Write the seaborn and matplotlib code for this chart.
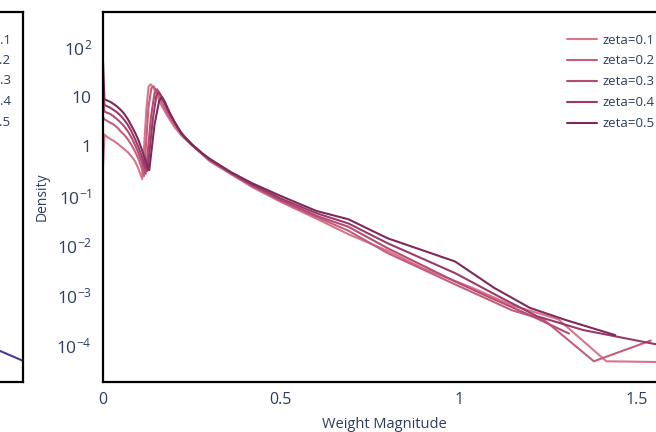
import matplotlib
matplotlib.use('Agg')
import numpy as np
import pandas as pd
import matplotlib.pyplot as plt
import seaborn as sns

# ---------------- data ----------------
series_labels = ['zeta=0.1', 'zeta=0.2', 'zeta=0.3', 'zeta=0.4', 'zeta=0.5']

x_z01 = [0, 0.004, 0.01, 0.02, 0.03, 0.04, 0.05, 0.06, 0.07, 0.08, 0.09, 0.10, 0.11, 0.122, 0.128,
         0.134, 0.142, 0.15, 0.165, 0.18, 0.20, 0.22, 0.25, 0.28, 0.30, 0.36,
         0.42, 0.50, 0.60, 0.69, 0.80, 0.90, 1.04, 1.15, 1.28, 1.415, 1.70]
y_z01 = [0.38, 1.74, 1.58, 1.41, 1.29, 1.15, 1.0, 0.87, 0.76, 0.63, 0.50, 0.35, 0.22, 5.6, 15.8,
         17.8, 15.1, 11.2, 6.6, 4.2, 2.5, 1.66, 1.05, 0.68, 0.50, 0.275,
         0.15, 0.076, 0.035, 0.017, 0.0079, 0.0035, 0.0014, 0.00063, 0.00033, 0.000047, 0.000044]

x_z02 = [0, 0.004, 0.01, 0.02, 0.03, 0.04, 0.05, 0.06, 0.07, 0.08, 0.09, 0.10, 0.108, 0.115, 0.128,
         0.136, 0.142, 0.15, 0.16, 0.175, 0.19, 0.21, 0.23, 0.25, 0.28, 0.30, 0.36, 0.42,
         0.50, 0.60, 0.69, 0.80, 0.99, 1.15, 1.24, 1.38, 1.54]
y_z02 = [4.0, 3.5, 3.3, 3.0, 2.75, 2.4, 2.0, 1.70, 1.38, 1.07, 0.79, 0.55, 0.38, 0.25, 6.3,
         14.8, 16.2, 13.2, 9.5, 5.6, 3.6, 2.3, 1.48, 1.07, 0.69, 0.52, 0.28, 0.16,
         0.079, 0.038, 0.020, 0.0071, 0.00166, 0.0005, 0.00032, 0.000047, 0.000123]

x_z03 = [0, 0.004, 0.01, 0.02, 0.03, 0.04, 0.05, 0.06, 0.07, 0.08, 0.09, 0.10, 0.11, 0.12, 0.135,
         0.145, 0.152, 0.16, 0.17, 0.185, 0.20, 0.22, 0.25, 0.28, 0.30, 0.36, 0.42,
         0.50, 0.60, 0.69, 0.80, 0.99, 1.09, 1.20, 1.31]
y_z03 = [7.9, 5.0, 4.8, 4.5, 4.0, 3.5, 3.0, 2.5, 2.0, 1.51, 1.07, 0.72, 0.46, 0.28, 4.0,
         12.0, 14.1, 11.5, 8.3, 4.8, 3.2, 1.86, 1.10, 0.71, 0.54, 0.29, 0.16,
         0.083, 0.040, 0.024, 0.0089, 0.0019, 0.00089, 0.0004, 0.00017]

x_z04 = [0, 0.004, 0.01, 0.02, 0.03, 0.04, 0.05, 0.06, 0.07, 0.08, 0.09, 0.10, 0.11, 0.118, 0.125,
         0.14, 0.150, 0.157, 0.165, 0.175, 0.19, 0.21, 0.23, 0.25, 0.28, 0.30, 0.36,
         0.42, 0.50, 0.60, 0.69, 0.80, 0.99, 1.12, 1.22, 1.35, 1.55, 1.70]
y_z04 = [16, 6.8, 6.5, 6.0, 5.4, 4.8, 4.1, 3.4, 2.7, 2.0, 1.41, 0.95, 0.60, 0.40, 0.32,
         3.5, 10.5, 12.3, 10.0, 7.1, 4.2, 2.4, 1.51, 1.10, 0.71, 0.55, 0.30,
         0.17, 0.089, 0.045, 0.028, 0.0112, 0.0028, 0.00089, 0.00038, 0.0002, 0.000105, 0.000076]

x_z05 = [0, 0.004, 0.01, 0.02, 0.03, 0.04, 0.05, 0.06, 0.07, 0.08, 0.09, 0.10, 0.11, 0.12, 0.13,
         0.145, 0.158, 0.166, 0.175, 0.185, 0.20, 0.22, 0.25, 0.28, 0.30, 0.36,
         0.42, 0.50, 0.60, 0.69, 0.80, 0.99, 1.10, 1.20, 1.30, 1.44]
y_z05 = [51, 8.9, 8.5, 7.9, 7.1, 6.3, 5.4, 4.5, 3.5, 2.6, 1.9, 1.32, 0.83, 0.50, 0.33,
         2.8, 8.3, 9.8, 7.6, 5.2, 3.2, 1.82, 1.07, 0.71, 0.56, 0.30,
         0.18, 0.10, 0.050, 0.034, 0.0141, 0.0048, 0.00141, 0.00056, 0.00032, 0.000158]

# partially visible neighbouring panel (left)
side_x = [1.45, 1.60]
side_y = [0.000144, 0.000048]

xtick_vals = [0, 0.5, 1, 1.5]
xtick_labels = ['0', '0.5', '1', '1.5']
ytick_vals = [1e-4, 1e-3, 1e-2, 1e-1, 1, 10, 100]
ytick_labels = [r'$\mathregular{10^{-4}}$', r'$\mathregular{10^{-3}}$', r'$\mathregular{10^{-2}}$',
                r'$\mathregular{10^{-1}}$', '1', '10', r'$\mathregular{10^{2}}$']

palette = ['#d9748a', '#c75d7d', '#b34d72', '#9b3a68', '#7d2a5c']
side_color = '#4b3a9a'
text_color = '#2a3f5f'

# ---------------- style ----------------
sns.set_style('white')
plt.rcParams['font.family'] = ['Open Sans', 'DejaVu Sans']
plt.rcParams['mathtext.fontset'] = 'custom'
plt.rcParams['mathtext.rm'] = 'Open Sans'
plt.rcParams['mathtext.it'] = 'Open Sans:italic'
plt.rcParams['mathtext.bf'] = 'Open Sans:bold'

frames = []
for lab, xs, ys in zip(series_labels,
                       [x_z01, x_z02, x_z03, x_z04, x_z05],
                       [y_z01, y_z02, y_z03, y_z04, y_z05]):
    frames.append(pd.DataFrame({'Weight Magnitude': xs, 'Density': ys, 'series': lab}))
df = pd.concat(frames, ignore_index=True)

W, H = 656, 432
fig = plt.figure(figsize=(W / 100, H / 100), dpi=100)

# main panel
ax_l, ax_r, ax_t, ax_b = 103, 665, 12, 382
ax = fig.add_axes([ax_l / W, (H - ax_b) / H, (ax_r - ax_l) / W, (ax_b - ax_t) / H])
sns.lineplot(data=df, x='Weight Magnitude', y='Density', hue='series', hue_order=series_labels,
             palette=palette, estimator=None, sort=False, linewidth=1.5, ax=ax, legend=True)
ax.set_yscale('log')
ax.set_xlim(0, 1.58)
ax.set_ylim(10 ** -4.745, 10 ** 2.705)
ax.set_xticks(xtick_vals)
ax.set_xticklabels(xtick_labels)
ax.set_yticks(ytick_vals)
ax.set_yticklabels(ytick_labels)
ax.yaxis.set_minor_locator(matplotlib.ticker.NullLocator())
ax.tick_params(axis='both', length=0, colors=text_color)
ax.tick_params(axis='y', labelsize=12.5, pad=8)
ax.tick_params(axis='x', labelsize=11.5, pad=7)
for s in ax.spines.values():
    s.set_visible(True)
    s.set_color('black')
    s.set_linewidth(1.6)
ax.set_xlabel('Weight Magnitude', fontsize=10.5, color=text_color)
ax.set_ylabel('Density', fontsize=10, color=text_color)
ax.xaxis.set_label_coords(0.5, -(425 - ax_b) / (ax_b - ax_t))
ax.xaxis.label.set_va('center')
ax.yaxis.set_label_coords(-(ax_l - 42) / (ax_r - ax_l), 0.5)
ax.yaxis.label.set_va('center')

handles, labels = ax.get_legend_handles_labels()
leg = ax.legend(handles, labels, loc='upper left', bbox_to_anchor=(567 / W, 1 - 33.5 / H),
                bbox_transform=fig.transFigure, frameon=False, fontsize=9.5,
                handlelength=2.3, handletextpad=0.4, labelspacing=0.6, borderpad=0,
                borderaxespad=0)
for t in leg.get_texts():
    t.set_color(text_color)

# left neighbouring panel, mostly outside the canvas
side_r = 23
side_w = 587
ax2 = fig.add_axes([(side_r - side_w) / W, (H - ax_b) / H, side_w / W, (ax_b - ax_t) / H])
sns.lineplot(x=side_x, y=side_y, color=side_color, linewidth=1.5, ax=ax2, legend=False)
ax2.set_yscale('log')
ax2.set_xlim(0, 1.6)
ax2.set_ylim(10 ** -4.745, 10 ** 2.705)
ax2.set_xticks([])
ax2.set_yticks([])
ax2.yaxis.set_minor_locator(matplotlib.ticker.NullLocator())
for s in ax2.spines.values():
    s.set_visible(True)
    s.set_color('black')
    s.set_linewidth(1.6)
for i, lab in enumerate(series_labels):
    fig.text(11 / W, 1 - (40 + i * 20.5) / H, lab, ha='right', va='center',
             fontsize=9.5, color=text_color)

fig.savefig('out.png', dpi=100)
